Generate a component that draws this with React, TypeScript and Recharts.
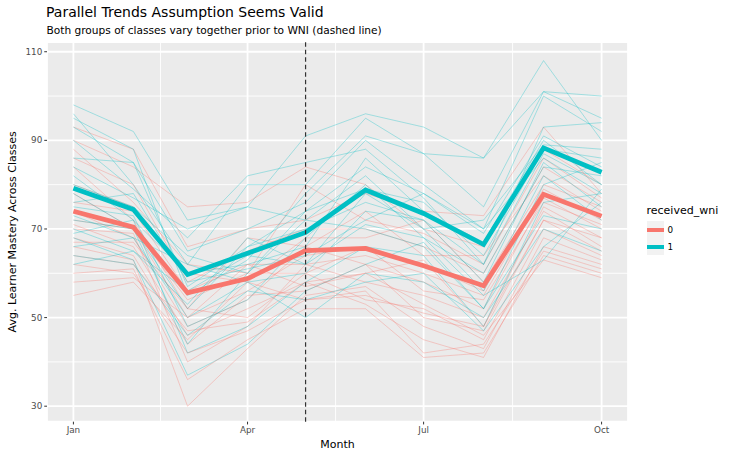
import React from 'react';
import { LineChart, Line, XAxis, YAxis, CartesianGrid, ReferenceLine, Legend } from 'recharts';

const FONT = '"DejaVu Sans", Verdana, sans-serif';
const RED = '#F8766D';
const TEAL = '#00BFC4';

// day of year (Jan 1 = 0) for the first of each month Jan..Oct
const monthDays = [0, 31, 59, 90, 120, 151, 181, 212, 243, 273];
const tickDays = [0, 90, 181, 273];
const tickLabels = ['Jan', 'Apr', 'Jul', 'Oct'];
const minorDays = [45, 135.5, 227];
const yTicks = [30, 50, 70, 90, 110];
const yMinor = [40, 60, 80, 100];
const wniDay = 120; // May 1

// group averages
const mean0 = [74.0, 70.4, 55.6, 58.8, 65.1, 65.6, 61.7, 57.2, 77.8, 72.9];
const mean1 = [79.2, 74.4, 59.7, 64.5, 69.2, 78.8, 73.5, 66.5, 88.3, 82.8];

// individual classes, received_wni = 0
const classes0 = [
  [93, 88, 66, 70, 72, 78, 74, 73, 93, 78],
  [90, 84, 75, 76, 84, 80, 70, 66, 88, 80],
  [88, 76, 62, 60, 80, 72, 69, 62, 86, 77],
  [86, 80, 58, 65, 70, 70, 66, 60, 84, 76],
  [84, 72, 52, 68, 66, 74, 64, 64, 82, 74],
  [80, 75, 60, 58, 68, 68, 72, 58, 80, 75],
  [78, 70, 50, 56, 64, 66, 62, 56, 79, 72],
  [76, 74, 56, 62, 62, 64, 60, 55, 78, 73],
  [74, 68, 48, 54, 66, 62, 58, 52, 77, 70],
  [72, 70, 54, 60, 60, 66, 56, 54, 76, 71],
  [71, 66, 46, 52, 58, 60, 63, 48, 75, 68],
  [70, 69, 40, 48, 62, 58, 55, 50, 74, 66],
  [68, 64, 44, 55, 56, 62, 50, 47, 72, 65],
  [67, 67, 52, 50, 60, 54, 52, 45, 70, 64],
  [66, 63, 30, 43, 55, 57, 48, 43, 68, 63],
  [64, 62, 47, 49, 58, 53, 45, 41, 66, 62],
  [62, 60, 42, 47, 54, 56, 42, 44, 65, 61],
  [60, 61, 36, 45, 52, 52, 41, 42, 64, 60],
  [58, 59, 50, 62, 57, 60, 53, 46, 63, 59],
  [55, 58, 45, 58, 54, 55, 51, 48, 72, 68],
];

// individual classes, received_wni = 1
const classes1 = [
  [98, 92, 72, 75, 91, 96, 93, 86, 108, 90],
  [96, 80, 62, 80, 80, 95, 87, 86, 101, 95],
  [95, 88, 55, 63, 78, 91, 87, 75, 101, 100],
  [93, 85, 65, 70, 76, 90, 80, 70, 100, 92],
  [90, 79, 68, 82, 85, 88, 77, 62, 93, 94],
  [86, 85, 57, 66, 74, 84, 78, 69, 91, 84],
  [84, 77, 70, 75, 72, 82, 70, 72, 89, 88],
  [82, 72, 60, 62, 66, 86, 74, 67, 90, 80],
  [80, 75, 64, 60, 74, 79, 76, 64, 88, 86],
  [78, 70, 52, 66, 70, 76, 72, 62, 87, 80],
  [76, 78, 58, 61, 64, 72, 78, 70, 86, 78],
  [75, 73, 48, 54, 68, 80, 68, 60, 84, 82],
  [73, 68, 62, 58, 60, 74, 72, 58, 85, 75],
  [72, 70, 44, 60, 72, 70, 66, 52, 80, 85],
  [70, 65, 56, 64, 62, 78, 70, 56, 82, 72],
  [69, 72, 42, 48, 58, 66, 64, 48, 76, 78],
  [68, 63, 37, 44, 56, 62, 67, 52, 73, 70],
  [66, 68, 50, 58, 50, 60, 58, 50, 70, 65],
  [64, 62, 46, 56, 54, 58, 60, 47, 66, 76],
  [62, 65, 53, 68, 62, 71, 68, 55, 63, 79],
];

const legendItems = [
  { label: '0', color: RED },
  { label: '1', color: TEAL },
];

const toSeries = (values: number[]) => monthDays.map((day, i) => ({ day, value: values[i] }));

const monthLabel = (d: number) => tickLabels[tickDays.indexOf(d)] ?? '';

const tickStyle = { fill: '#4D4D4D', fontSize: 8.8, fontFamily: FONT };

const renderLegend = () => (
  <div style={{ fontFamily: FONT, color: '#000', textAlign: 'left' }}>
    <div style={{ fontSize: 11, lineHeight: '13px', marginBottom: 4 }}>received_wni</div>
    {legendItems.map(item => (
      <div key={item.label} style={{ display: 'flex', alignItems: 'center', height: 17.3 }}>
        <div style={{ width: 17, height: 17, background: '#F2F2F2', display: 'flex', alignItems: 'center' }}>
          <div style={{ width: 17, height: 4, background: item.color }} />
        </div>
        <span style={{ fontSize: 8.8, marginLeft: 4 }}>{item.label}</span>
      </div>
    ))}
  </div>
);

const renderYTitle = (props: any) => {
  const { y, height } = props.viewBox;
  return (
    <text
      transform={`translate(15.5, ${y + height / 2}) rotate(-90)`}
      textAnchor="middle"
      fontSize={11}
      fontFamily={FONT}
      fill="#000"
    >
      Avg. Learner Mastery Across Classes
    </text>
  );
};

const renderXTitle = (props: any) => {
  const { x, width } = props.viewBox;
  return (
    <text x={x + width / 2} y={447.5} textAnchor="middle" fontSize={11} fontFamily={FONT} fill="#000">
      Month
    </text>
  );
};

export default function App() {
  const thin: { key: string; values: number[]; color: string }[] = [];
  classes0.forEach((vals, i) => {
    thin.push({ key: `c0-${i}`, values: vals, color: RED });
    if (classes1[i]) thin.push({ key: `c1-${i}`, values: classes1[i], color: TEAL });
  });

  return (
    <div style={{ position: 'absolute', left: 0, top: 0, width: 736, height: 454, background: '#fff' }}>
      <div style={{ position: 'absolute', left: 46, top: 4.9, fontSize: 14, lineHeight: '14px', fontFamily: FONT, whiteSpace: 'nowrap' }}>
        Parallel Trends Assumption Seems Valid
      </div>
      <div style={{ position: 'absolute', left: 46.5, top: 25.3, fontSize: 10.6, lineHeight: '10.6px', fontFamily: FONT, whiteSpace: 'nowrap' }}>
        Both groups of classes vary together prior to WNI (dashed line)
      </div>
      <LineChart width={736} height={454} margin={{ top: 42, right: 108, bottom: 0, left: 7 }}>
        <CartesianGrid fill="#EBEBEB" fillOpacity={1} stroke="#FFFFFF" strokeWidth={1.8} />
        <XAxis
          type="number"
          dataKey="day"
          domain={[-13.65, 286.65]}
          ticks={tickDays}
          tickFormatter={monthLabel}
          allowDataOverflow
          axisLine={false}
          tickLine={{ stroke: '#333333' }}
          tickSize={2.75}
          tickMargin={2}
          tick={tickStyle}
          height={32.3}
          label={renderXTitle}
        />
        <YAxis
          type="number"
          domain={[26.5, 112.2]}
          ticks={yTicks}
          allowDataOverflow
          axisLine={false}
          tickLine={{ stroke: '#333333' }}
          tickSize={2.75}
          tickMargin={2}
          tick={tickStyle}
          width={40}
          label={renderYTitle}
        />
        {minorDays.map(d => (
          <ReferenceLine key={`vx-${d}`} x={d} stroke="#FFFFFF" strokeWidth={0.9} />
        ))}
        {yMinor.map(v => (
          <ReferenceLine key={`hy-${v}`} y={v} stroke="#FFFFFF" strokeWidth={0.9} />
        ))}
        {thin.map(t => (
          <Line
            key={t.key}
            data={toSeries(t.values)}
            dataKey="value"
            type="linear"
            stroke={t.color}
            strokeOpacity={0.5}
            strokeWidth={0.65}
            dot={false}
            activeDot={false}
            isAnimationActive={false}
          />
        ))}
        <Line data={toSeries(mean0)} dataKey="value" type="linear" stroke={RED} strokeWidth={4.7} dot={false} activeDot={false} isAnimationActive={false} />
        <Line data={toSeries(mean1)} dataKey="value" type="linear" stroke={TEAL} strokeWidth={4.7} dot={false} activeDot={false} isAnimationActive={false} />
        <ReferenceLine x={wniDay} stroke="#333333" strokeWidth={1.2} strokeDasharray="4.5 3" />
        <Legend
          layout="horizontal"
          verticalAlign="middle"
          align="center"
          content={renderLegend}
          wrapperStyle={{ left: 646.5, top: 204, width: 90 }}
        />
      </LineChart>
    </div>
  );
}
